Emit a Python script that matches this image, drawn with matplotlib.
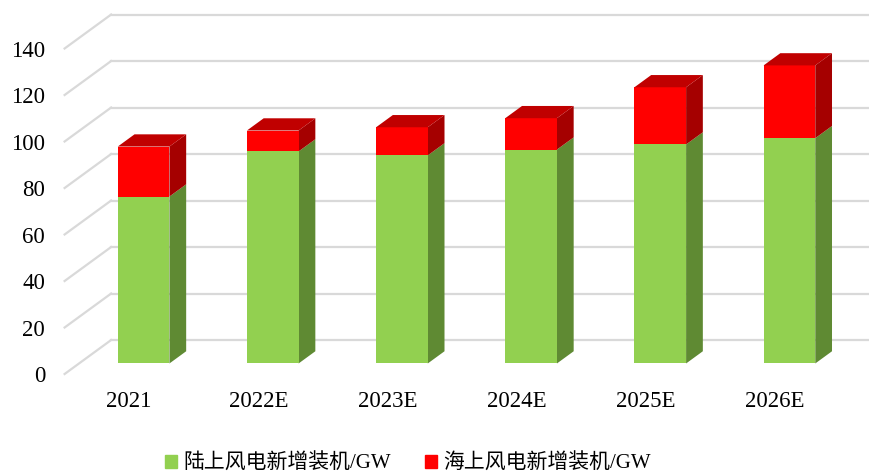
import matplotlib
matplotlib.use("Agg")
import matplotlib.pyplot as plt
from matplotlib.patches import Polygon, Patch

# data
categories = ["2021", "2022E", "2023E", "2024E", "2025E", "2026E"]
onshore = [71.8, 91.2, 89.5, 92.0, 94.2, 96.9]
offshore = [21.5, 9.0, 12.1, 13.5, 24.6, 31.3]
series_names = ["陆上风电新增装机/GW", "海上风电新增装机/GW"]
y_ticks = [0, 20, 40, 60, 80, 100, 120, 140]

# fake 3d look: depth offset vector in data units
DX, DY = 0.36, 14.6
D0, D1 = 0.31, 0.67      # bar front / back depth
BAR_W = 0.4

green = "#92D050"
green_side = "#5F8A33"
red = "#FF0000"
red_side = "#A50000"
red_top = "#C00000"
grid_c = "#D9D9D9"

plt.rcParams['font.family'] = ['Liberation Serif', 'Noto Sans CJK SC']

fig = plt.figure(figsize=(8.7, 4.76), dpi=100)
ax = fig.add_axes([64.6 / 870, (476 - 374) / 476, 775 / 870, 325.5 / 476])
ax.set_xlim(-0.5, 5.5)
ax.set_ylim(0, 140)
for s in ax.spines.values():
    s.set_visible(False)

# back wall grid + floor diagonals
for v in y_ticks:
    ax.plot([-0.5, -0.5 + DX], [v, v + DY], color=grid_c, lw=1.6, clip_on=False, zorder=0)
    ax.plot([-0.5 + DX, 6.2], [v + DY, v + DY], color=grid_c, lw=1.6, clip_on=False, zorder=0)


def draw_segment(i, bottom, height, c_front, c_side, c_top=None):
    x0 = i - BAR_W / 2 + D0 * DX
    y0 = bottom + D0 * DY
    ax.bar(x0, height, width=BAR_W, bottom=y0, align='edge', color=c_front,
           linewidth=0, zorder=3, clip_on=False)
    xr = x0 + BAR_W
    ddx, ddy = (D1 - D0) * DX, (D1 - D0) * DY
    side = [(xr, y0), (xr + ddx, y0 + ddy), (xr + ddx, y0 + height + ddy), (xr, y0 + height)]
    ax.add_patch(Polygon(side, closed=True, color=c_side, lw=0, zorder=2, clip_on=False))
    if c_top:
        yt = y0 + height
        top = [(x0, yt), (xr, yt), (xr + ddx, yt + ddy), (x0 + ddx, yt + ddy)]
        ax.add_patch(Polygon(top, closed=True, color=c_top, lw=0, zorder=4, clip_on=False))


for i in range(len(categories)):
    draw_segment(i, 0, onshore[i], green, green_side)
    draw_segment(i, onshore[i], offshore[i], red, red_side, red_top)

ax.set_yticks(y_ticks)
ax.set_yticklabels([str(v) for v in y_ticks])
ax.set_xticks(range(len(categories)))
ax.set_xticklabels(categories)
ax.tick_params(axis='y', length=0, pad=14, labelsize=16.5)
ax.tick_params(axis='x', length=0, pad=12, labelsize=16.5)

handles = [Patch(color=green, label=series_names[0]), Patch(color=red, label=series_names[1])]
fig.legend(handles=handles, loc='center', bbox_to_anchor=(408 / 870, 12 / 476), ncol=2,
           frameon=False, fontsize=15, handlelength=0.6, handleheight=0.6,
           handletextpad=0.3, columnspacing=1.6)

fig.savefig("out.png", dpi=100)
